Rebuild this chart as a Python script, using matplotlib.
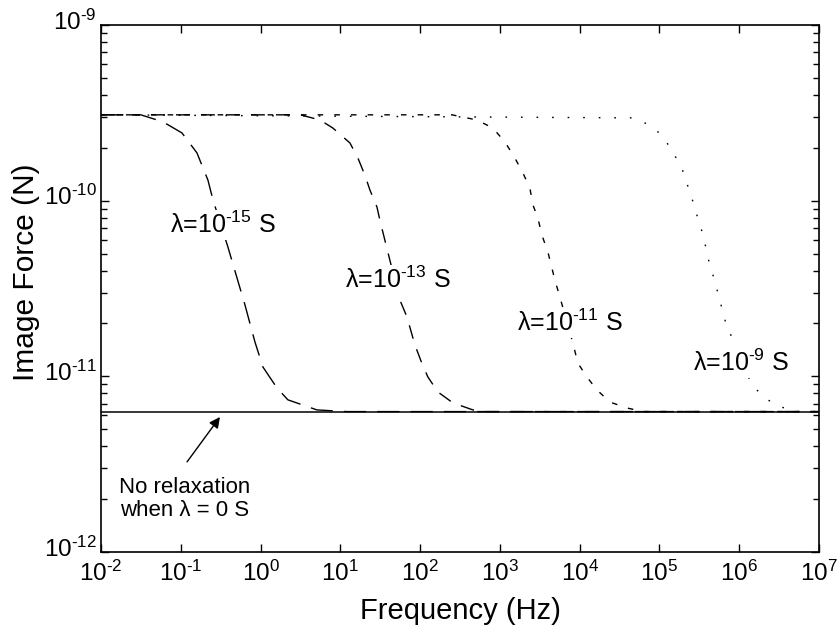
import numpy as np
import matplotlib
matplotlib.use('Agg')
import matplotlib.pyplot as plt
import matplotlib.transforms as mtrans
from matplotlib.ticker import LogLocator, NullLocator, FuncFormatter

plt.rcParams['font.family'] = ['Liberation Sans', 'DejaVu Sans']
plt.rcParams['mathtext.fontset'] = 'custom'
plt.rcParams['mathtext.rm'] = 'Liberation Sans'
plt.rcParams['mathtext.it'] = 'Liberation Sans:italic'
plt.rcParams['mathtext.bf'] = 'Liberation Sans:bold'

# curves: frequency (Hz) / image force (N)
freq_15 = [1e-2, 0.0316, 0.0598, 0.1035, 0.1596, 0.219, 0.2535, 0.39, 0.638, 0.851,
           1.072, 1.607, 2.203, 5.09, 12.0, 1e7]
force_15 = [3.08e-10, 3.08e-10, 2.81e-10, 2.43e-10, 1.87e-10, 1.31e-10, 1.01e-10, 5.45e-11,
            2.55e-11, 1.57e-11, 1.13e-11, 8.59e-12, 7.35e-12, 6.44e-12, 6.3e-12, 6.3e-12]

freq_13 = [1e-2, 3.16, 5.55, 8.07, 13.2, 16.6, 20.3, 23.5, 28.8, 31.3, 39.4, 55.8, 68.4,
           86.1, 105, 125, 167, 258, 459, 612, 1e7]
force_13 = [3.08e-10, 3.08e-10, 2.88e-10, 2.59e-10, 2.13e-10, 1.75e-10, 1.40e-10, 1.15e-10,
            9.2e-11, 7.76e-11, 5.1e-11, 2.72e-11, 2.18e-11, 1.51e-11, 1.19e-11, 9.93e-12,
            8.15e-12, 7.06e-12, 6.44e-12, 6.3e-12, 6.3e-12]

freq_11 = [1e-2, 251, 515, 817, 1156, 1542, 1941, 2377, 2594, 2992, 3357, 4000, 4887, 5649,
           8222, 9484, 12300, 16440, 23880, 38990, 61940, 1e7]
force_11 = [3.08e-10, 3.08e-10, 2.88e-10, 2.59e-10, 2.16e-10, 1.75e-10, 1.44e-10, 1.18e-10,
            9.46e-11, 7.98e-11, 6.38e-11, 5.1e-11, 3.54e-11, 2.83e-11, 1.55e-11, 1.19e-11,
            9.93e-12, 8.38e-12, 7.14e-12, 6.61e-12, 6.3e-12, 6.3e-12]

freq_9 = [1e-2, 45080, 69500, 107200, 147200, 191000, 220300, 254700, 294400, 339600,
          381100, 415900, 480800, 539500, 605300, 679200, 1.439e6, 2.153e6, 3.319e6,
          5.27e6, 1e7]
force_9 = [3.08e-10, 2.96e-10, 2.74e-10, 2.37e-10, 1.89e-10, 1.53e-10, 1.26e-10, 1.035e-10,
           8.3e-11, 6.73e-11, 5.45e-11, 4.54e-11, 3.63e-11, 2.99e-11, 2.45e-11, 2.01e-11,
           8.93e-12, 7.45e-12, 6.7e-12, 6.3e-12, 6.3e-12]

# no relaxation (lambda = 0)
freq_0 = [1e-2, 1e7]
force_0 = [6.3e-12, 6.3e-12]

labels = ['λ=10$^{\\mathregular{‐15}}$ S', 'λ=10$^{\\mathregular{‐13}}$ S',
          'λ=10$^{\\mathregular{‐11}}$ S', 'λ=10$^{\\mathregular{‐9}}$ S']
label_x = [0.073, 11.4, 1633, 2.62e5]
label_y = [7.27e-11, 3.54e-11, 2.01e-11, 1.19e-11]


def pow_label(v, pos):
    e = int(round(np.log10(v)))
    s = str(e).replace('-', '‐')  # short hyphen like the original
    return '$\\mathregular{10^{%s}}$' % s


fig = plt.figure(figsize=(8.4, 6.34), dpi=100)
ax = fig.add_axes([0.1202, 0.1293, 0.8548, 0.8313])

ax.plot(freq_0, force_0, color='k', lw=1.1)
ax.plot(freq_15, force_15, color='k', lw=1.0, linestyle=(0, (16, 8)))
ax.plot(freq_13, force_13, color='k', lw=1.0, linestyle=(0, (10, 8)))
ax.plot(freq_11, force_11, color='k', lw=1.0, linestyle=(0, (4, 8)))
ax.plot(freq_9, force_9, color='k', lw=1.0, linestyle=(0, (1.2, 10)))

for t, x, y in zip(labels, label_x, label_y):
    ax.text(x, y, t, fontsize=18, ha='left', va='center', zorder=5,
            bbox=dict(facecolor='white', edgecolor='none', pad=1))

ax.annotate('', xy=(0.31, 5.87e-12), xytext=(0.12, 3.26e-12),
            arrowprops=dict(arrowstyle='-|>', color='k', lw=1.0, mutation_scale=16,
                            shrinkA=0, shrinkB=0))
ax.text(0.113, 2.0e-12, 'No relaxation\nwhen λ = 0 S', fontsize=16, ha='center',
        va='center', linespacing=1.15)

ax.set_xscale('log')
ax.set_yscale('log')
ax.set_xlim(1e-2, 1e7)
ax.set_ylim(1e-12, 1e-9)
ax.xaxis.set_major_locator(LogLocator(base=10, numticks=20))
ax.xaxis.set_minor_locator(NullLocator())
ax.yaxis.set_major_locator(LogLocator(base=10, numticks=20))
ax.yaxis.set_minor_locator(LogLocator(base=10, subs=np.arange(2, 10) * 1.0, numticks=20))
ax.xaxis.set_major_formatter(FuncFormatter(pow_label))
ax.yaxis.set_major_formatter(FuncFormatter(pow_label))

ax.tick_params(which='both', direction='in', top=True, right=True, labelsize=17.5)
ax.tick_params(axis='x', which='major', pad=6)
ax.tick_params(axis='y', which='major', pad=3)
ax.tick_params(which='major', length=6, width=1)
ax.tick_params(which='minor', length=4, width=1)
for sp in ax.spines.values():
    sp.set_linewidth(1.2)

# y labels: keep the "10" centred on the tick, exponent sits above
off = mtrans.ScaledTranslation(0, 4 / 72, fig.dpi_scale_trans)
for tk in ax.yaxis.get_major_ticks():
    tk.label1.set_transform(tk.label1.get_transform() + off)

ax.set_xlabel('Frequency (Hz)', fontsize=21)
ax.set_ylabel('Image Force (N)', fontsize=21.5)
ax.xaxis.set_label_coords(0.5, -0.086)
ax.xaxis.label.set_va('top')
ax.yaxis.set_label_coords(-0.085, 0.531)

fig.savefig('out.png', dpi=100)
